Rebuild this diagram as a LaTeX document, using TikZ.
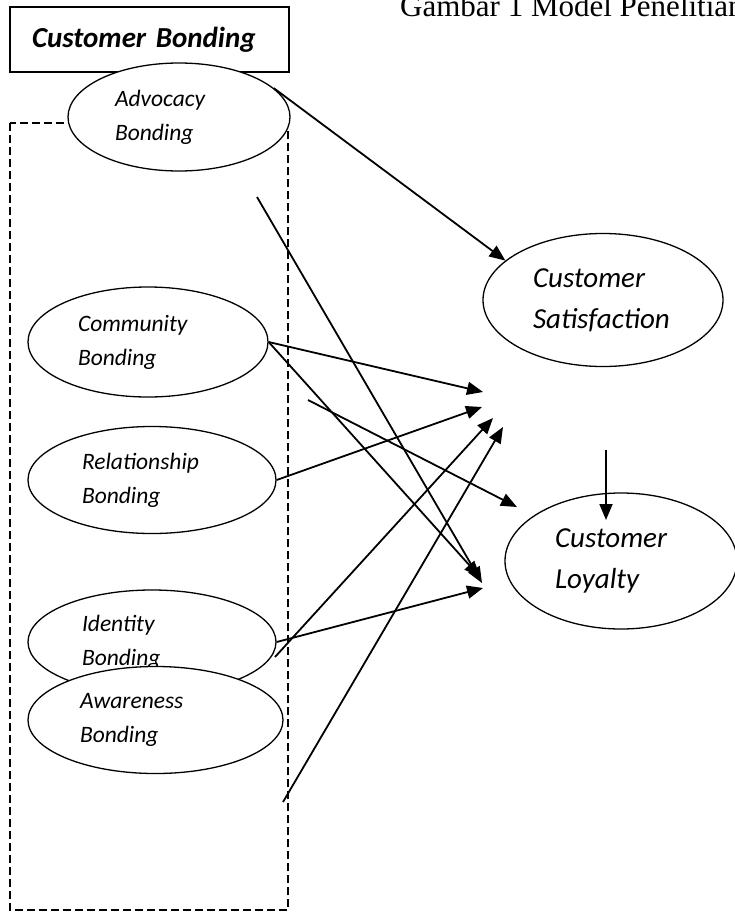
\documentclass[tikz,border=0pt]{standalone}
\usepackage{fontspec}
\setmainfont{Carlito}
\newfontfamily\captionfont{Liberation Serif}
\usetikzlibrary{arrows.meta,shapes.geometric}

\begin{document}
\begin{tikzpicture}[x=1pt,y=-1pt,
    construct/.style={draw,ellipse,fill=white,line width=1.3pt,inner sep=0pt,
      text width=140pt,align=left,font=\fontsize{23.5}{34}\selectfont\itshape},
    target/.style={construct,font=\fontsize{29}{41}\selectfont\itshape},
    effect/.style={line width=1.8pt,-{Triangle[length=16pt,width=13pt]}}]
    \pgfmathsetmacro{\groupLeft}{10}
    \pgfmathsetmacro{\groupRight}{288}
    \pgfmathsetmacro{\groupTop}{123}
    \pgfmathsetmacro{\groupBottom}{910}

    \useasboundingbox (0,0) rectangle (735,913);
    \clip (0,0) rectangle (735,913);

    % Titel
    \node[anchor=base west,inner sep=0pt,font=\captionfont\fontsize{31}{36}\selectfont] (caption) at (400,16) {Gambar 1 Model Penelitian};

    % Kasten
    \node[draw,line width=1.3pt,minimum width=279pt,minimum height=65pt,text width=235pt,align=left,
      font=\fontsize{29}{34}\selectfont\bfseries\itshape] (bonding) at (149.5,39.5) {Customer Bonding};

    % Gruppe
    \draw[dashed,line width=1.8pt,dash pattern=on 8pt off 4pt] (\groupLeft,\groupTop) rectangle (\groupRight,\groupBottom);

    % Dimensionen
    \node[construct,minimum width=222pt,minimum height=108pt,text width=128pt] (adv) at (179,117) {Advocacy\\Bonding};
    \node[construct,minimum width=240pt,minimum height=110pt] (com) at (148,342) {Community\\Bonding};
    \node[construct,minimum width=248pt,minimum height=107pt] (rel) at (152,480) {Relationship\\Bonding};
    \node[construct,minimum width=248pt,minimum height=104pt] (idn) at (152,642) {Identity\\Bonding};
    \node[construct,minimum width=255pt,minimum height=107pt,text width=151pt] (awa) at (155.5,720) {Awareness\\Bonding};

    % Zielgroessen
    \node[target,minimum width=240pt,minimum height=133pt] (sat) at (603,300) {Customer\\Satisfaction};
    \node[target,minimum width=232pt,minimum height=136pt,text width=132pt] (loy) at (621,561) {Customer\\Loyalty};

    % Freie Enden
    \coordinate (advTail) at (257,197);
    \coordinate (relTail) at (308,400);
    \coordinate (idnTail) at (275,657);
    \coordinate (awaTail) at (283,802);
    \coordinate (satTail) at (606,450);
    \coordinate (satInA) at (483,392);
    \coordinate (satInB) at (482,407);
    \coordinate (satInC) at (493,418);
    \coordinate (satInD) at (503,427);
    \coordinate (loyInA) at (480,577);
    \coordinate (loyInB) at (482,583);
    \coordinate (loyInC) at (483,588);
    \coordinate (loyTop) at (517,507);
    \coordinate (loyHead) at (606,520);

    % Pfeile
    \draw[effect] (adv.17) -- (sat.158);
    \draw[effect] (advTail) -- (loyInB);
    \draw[effect] (com.east) -- (satInA);
    \draw[effect] (com.east) -- (loyInA);
    \draw[effect] (relTail) -- (loyTop);
    \draw[effect] (rel.east) -- (satInB);
    \draw[effect] (idnTail) -- (satInC);
    \draw[effect] (idn.east) -- (loyInC);
    \draw[effect] (awaTail) -- (satInD);
    \draw[effect] (satTail) -- (loyHead);
\end{tikzpicture}
\end{document}
